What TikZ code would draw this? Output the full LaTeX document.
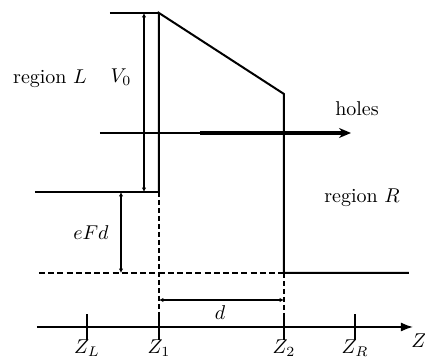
\documentclass[tikz,border=0pt]{standalone}
\usetikzlibrary{arrows.meta,positioning}
\tikzset{
  levelln/.style={line width=0.8pt},
  barrierln/.style={line width=1pt, line join=miter},
  dashln/.style={dash pattern=on 3pt off 1.6pt, line width=1.3pt},
  guideln/.style={dash pattern=on 2.4pt off 1.6pt, line width=0.6pt},
  dimarr/.style={{Latex[length=2.2pt,width=2.2pt]}-{Latex[length=2.2pt,width=2.2pt]}, line width=0.75pt},
  axisln/.style={-{Latex[length=6pt,width=4.5pt]}, line width=0.8pt},
  holeln/.style={-{Stealth[length=6pt,width=5pt]}, line width=1.6pt},
  tickln/.style={line width=0.75pt},
  lbl/.style={font=\normalsize, inner sep=1pt},
}

\begin{document}
\begin{tikzpicture}[x=0.5pt, y=0.5pt]
    \useasboundingbox (0,0) rectangle (425,358);
    % key points of the band profile
    \coordinate (topL) at (110,345);
    \coordinate (topZ1) at (159,345);
    \coordinate (lowZ1) at (159,166);
    \coordinate (leftL) at (35,166);
    \coordinate (topZ2) at (284,264);
    \coordinate (lowZ2) at (284,85);
    \coordinate (rightR) at (409,85);
    \coordinate (dashL) at (39,85);
    % axis
    \coordinate (axL) at (37,31);
    \coordinate (axR) at (413,31);
    \coordinate (aZL) at (87,31);
    \coordinate (aZ1) at (159,31);
    \coordinate (aZ2) at (284,31);
    \coordinate (aZR) at (355,31);
    % barrier
    \draw[levelln] (topL) -- (topZ1);
    \draw[barrierln] (lowZ1) -- (topZ1) -- (topZ2) -- (lowZ2) -- (rightR);
    \draw[levelln] (leftL) -- (lowZ1);
    \draw[dashln] (dashL) -- (lowZ2);
    % guides down to the axis
    \draw[guideln] (lowZ1) -- (aZ1);
    \draw[guideln] (lowZ2) -- (aZ2);
    % holes
    \coordinate (hA) at (100,225);
    \coordinate (hB) at (200,225);
    \coordinate (hC) at (351,225);
    \draw[levelln] (hA) -- (hB);
    \draw[holeln] (hB) -- (hC);
    % dimensions
    \coordinate (vTop) at (144,345);
    \coordinate (vBot) at (144,166);
    \draw[dimarr] (vTop) -- (vBot);
    \coordinate (eTop) at (121,166);
    \coordinate (eBot) at (121,85);
    \draw[dimarr] (eTop) -- (eBot);
    \coordinate (dL) at (159,58);
    \coordinate (dR) at (284,58);
    \draw[dimarr] (dL) -- (dR);
    % axis and ticks
    \draw[axisln] (axL) -- (axR);
    \foreach \p/\t in {aZL/Z_L, aZ1/Z_1, aZ2/Z_2, aZR/Z_R}{
      \draw[tickln] ([yshift=-6.5]\p) -- ([yshift=6.5]\p);
      \node[lbl, below=10 of \p] (n\p) {$\t$};
    }
    \node[lbl, anchor=west] (zlab) at (409,17) {$Z$};
    % labels
    \node[lbl] (regL) at (50,279) {region $L$};
    \node[lbl] (vlab) at (121,281) {$V_0$};
    \node[lbl] (holes) at (357,249) {holes};
    \node[lbl] (regR) at (362,160) {region $R$};
    \node[lbl] (eFd) at (91,125) {$eFd$};
    \node[lbl] (dlab) at (220,45) {$d$};
\end{tikzpicture}
\end{document}
